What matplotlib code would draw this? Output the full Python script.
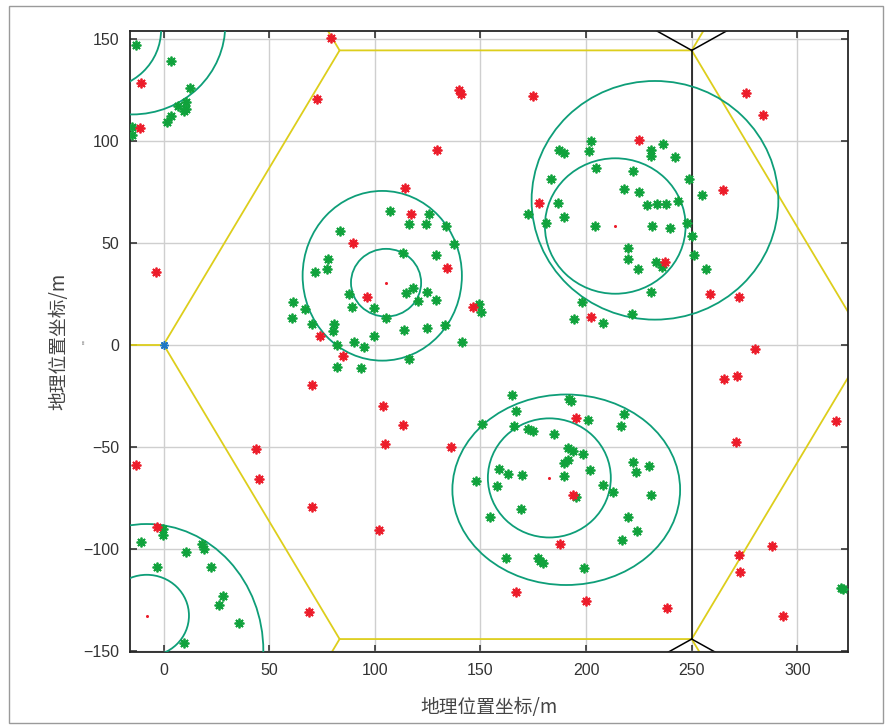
import numpy as np
import matplotlib
matplotlib.use("Agg")
import matplotlib.pyplot as plt
from matplotlib.patches import Ellipse, Rectangle

plt.rcParams["font.family"] = ["Liberation Sans", "Noto Sans CJK SC", "DejaVu Sans"]

# 基站覆盖区内的用户（绿）
green_x = [-13, 3.4, 12.5, 10.6, 7, 9.7, 10.6, 3.5, 1.5, -14.8, -14.8,
           83.5, 78, 77.2, 71.7, 87.6, 89.4, 61.1, 67.1, 60.7, 70.4, 80.7, 80, 82.3, 90.3, 95,
           82.3, 93.5, 116.3,
           107.2, 125.8, 116.3, 124.1, 133.5, 137.3, 113.5, 129, 117.9, 114.8, 124.6, 129.1,
           120.3, 99.6, 105.2, 114, 124.9, 133.1, 99.6, 149.5, 150.1, 141.1,
           202.3, 187, 189.5, 201.4, 204.7, 183.5, 186.6, 172.4, 189.5, 181, 204.4, 197.9, 194.4, 208.2,
           236.5, 230.6, 230.5, 242.2, 222.2, 248.5, 218.1, 224.9, 255, 243.6, 228.7, 233.4, 237.7,
           231.3, 239.9, 247.9, 250, 220, 219.9, 232.9, 236.1, 224.7, 251.2, 256.9, 230.6, 221.7,
           164.8, 192.1, 192.8, 166.8, 200.9, 150.6, 165.9, 172.5, 174.7, 184.8, 191.4, 193.9, 198.7,
           191.6, 189.5, 201.8, 158.8, 163.2, 169.8, 189.5, 147.9, 158, 208.1, 195.2, 169, 154.4,
           161.9, 177.1, 178.2, 179.5, 199,
           217.8, 216.7, 222.3, 223.6, 229.6, 212.9, 230.9, 219.8, 224.2, 217, 320.6, 321.4,
           -0.4, -0.4, -10.8, 10.5, 18.1, 19.3, -3.1, 22.5, 28, 26.1, 35.9, 9.8]
green_y = [147, 139, 125.7, 118.8, 117.2, 114.6, 115.5, 112.3, 109.3, 106.9, 102.8,
           55.7, 41.9, 37, 35.6, 24.7, 18.6, 21.1, 17.4, 12.9, 10, 10.1, 6.7, 0, 1.5, -1.3,
           -10.8, -11.6, -7,
           65.7, 64.1, 59.2, 59.1, 58.3, 49.4, 45.1, 44, 27.9, 25.5, 26, 21.8,
           21.6, 17.8, 12.9, 7.1, 8, 9.7, 4.4, 20, 16.2, 1.2,
           100, 95.3, 93.8, 95, 86.5, 81.4, 69.6, 63.9, 62.4, 59.5, 58, 21.1, 12.6, 10.8,
           98.4, 95.3, 92.3, 92.2, 85.3, 81.2, 76.5, 74.7, 73.4, 70.4, 68.3, 68.9, 68.9,
           58.2, 57.4, 59.5, 53.3, 47.5, 42, 40.5, 38.1, 37, 44, 37.1, 25.7, 15.2,
           -24.7, -26.5, -27.8, -32.5, -36.8, -39, -39.7, -41.3, -42.3, -43.9, -50.5, -52, -53.6,
           -56.5, -58.1, -61.4, -60.9, -63.5, -63.8, -64.2, -66.7, -69.1, -69, -74.7, -80.5, -84.6,
           -104.4, -104.4, -105.9, -106.9, -109.6,
           -34, -39.9, -57.7, -62.2, -59.3, -72, -73.7, -84.5, -91.2, -95.9, -119.1, -119.6,
           -90.5, -93.5, -96.9, -101.5, -97.8, -100, -108.8, -108.8, -123.2, -127.7, -136.3, -146.1]

# 覆盖区外的用户（红）
red_x = [-10.8, -11.1, 79.1, 72.8, -3.5, 89.8, 96.5, 74.1, 84.8, 70.3, 43.9, 45, -13, 70.3,
         -3.2, 68.9,
         140, 140.8, 174.9, 129.4, 114.5, 117.1, 134.3, 146.3, 177.6, 202.3,
         225, 275.7, 283.9, 264.9, 237.5, 258.6, 272.2,
         103.9, 113.2, 104.8, 136.1, 102.1, 195.2, 193.7, 187.6, 166.7, 199.8,
         279.8, 265.4, 271.6, 271.1, 318.4, 287.8, 272.2, 273, 293, 238.1]
red_y = [128.1, 106.4, 150.5, 120.4, 35.5, 49.7, 23.5, 4.2, -5.5, -19.8, -51, -66, -58.8, -79.6,
         -89.5, -131.2,
         124.7, 122.7, 122.1, 95.3, 76.7, 64.2, 37.7, 18.6, 69.3, 13.4,
         100.3, 123.5, 112.6, 75.8, 40.4, 25, 23.5,
         -29.9, -39.4, -48.5, -50.3, -91, -35.8, -73.8, -97.8, -121.1, -125.5,
         -2, -16.8, -15.5, -47.5, -37.4, -98.5, -103.1, -111.4, -132.8, -128.9]

# 基站位置
bs_x = [105.3, 213.8, 182.6, -8]
bs_y = [30.4, 58.2, -65.5, -132.8]

# 覆盖等值线（中心、半轴）
ring_x = [105.3, 103.5, 213.8, 232.6, 182.6, 190.6, -8, -8, -30.3, -14.9]
ring_y = [30.4, 33.8, 58.2, 70.8, -65.3, -71.1, -132.8, -150, 154.4, 157]
ring_rx = [16.6, 37.7, 33.3, 58.4, 29.1, 53.9, 20, 55.2, 29.1, 44.1]
ring_ry = [16.6, 41.6, 33.2, 58.5, 29.2, 46.7, 20, 62.1, 29.1, 44.1]

# 六边形小区边界
hex_x = [0, 83.3, 250, 333.3, 250, 83.3, 0]
hex_y = [0, 144.3, 144.3, 0, -144.3, -144.3, 0]
hex_stubs = [((0, -166.7), (0, 0)), ((83.3, 0), (144.3, 288.7)), ((250, 333.3), (144.3, 288.7)),
             ((83.3, 0), (-144.3, -288.7)), ((250, 333.3), (-144.3, -288.7))]
nb_edges = [((250, 250), (-144.3, 144.3)),
            ((250, 105.7), (144.3, 227.6)), ((250, 394.3), (144.3, 227.6)),
            ((250, 105.7), (-144.3, -227.6)), ((250, 394.3), (-144.3, -227.6))]

xticks = [0, 50, 100, 150, 200, 250, 300]
yticks = [-150, -100, -50, 0, 50, 100, 150]

fig = plt.figure(figsize=(8.9, 7.28), dpi=100)
ax = fig.add_axes([0.1461, 0.1048, 0.8070, 0.8526])

fig.patches.append(Rectangle((9 / 890, 5 / 728), 874 / 890, 717 / 728, transform=fig.transFigure,
                             fill=False, edgecolor="#9a9a9a", linewidth=1.0))

ax.plot(hex_x, hex_y, color="#ddce1c", lw=1.3, zorder=2)
for xs, ys in hex_stubs:
    ax.plot(xs, ys, color="#ddce1c", lw=1.3, zorder=2)
for xs, ys in nb_edges:
    ax.plot(xs, ys, color="black", lw=1.1, zorder=2)

for cx, cy, rx, ry in zip(ring_x, ring_y, ring_rx, ring_ry):
    ax.add_patch(Ellipse((cx, cy), 2 * rx, 2 * ry, fill=False, edgecolor="#0e9e78",
                         lw=1.3, zorder=3))

star = (8, 2, 0)
ax.plot(green_x, green_y, ls="none", marker=star, ms=7, mew=1.3, color="#10a23c", zorder=4)
ax.plot(red_x, red_y, ls="none", marker=star, ms=7, mew=1.3, color="#ec1c2a", zorder=5)
ax.plot(bs_x, bs_y, ls="none", marker="o", ms=2.2, color="#ec1c2a", mew=0, zorder=5)
ax.plot([0], [0], ls="none", marker=star, ms=6, mew=1.1, color="#1f77c4", zorder=6)

ax.set_xlim(-15.9, 324.1)
ax.set_ylim(-150.5, 153.8)
ax.set_xticks(xticks)
ax.set_yticks(yticks)
ax.grid(True, color="#cfcfcf", lw=1.0)
ax.set_axisbelow(True)
ax.tick_params(direction="in", length=5, width=1.1, top=True, right=True,
               labelsize=11.5, labelcolor="#333333", color="#262626", pad=8)
for sp in ax.spines.values():
    sp.set_color("#262626")
    sp.set_linewidth(1.3)

lab = dict(fontsize=13.5, color="#444444", family=["Noto Sans CJK SC", "DejaVu Sans"])
ax.set_xlabel("地理位置坐标/m", labelpad=14, **lab)
ax.set_ylabel("地理位置坐标/m", labelpad=10, **lab)
fig.text(87 / 890, 1 - 342 / 728, "\"", rotation=90, fontsize=8, color="#666666",
         ha="center", va="center")

fig.savefig("out.png", dpi=100)
